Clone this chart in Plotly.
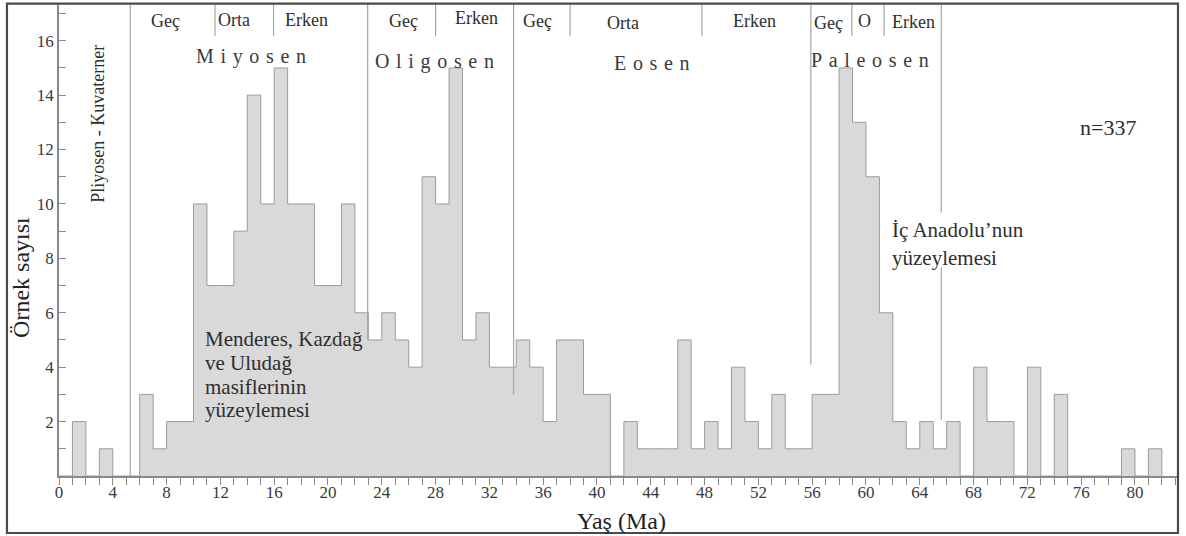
import numpy as np
import plotly.graph_objects as go

# ---------------- data ----------------
bin_width = 1  # Ma
counts = [0, 2, 0, 1, 0, 0, 3, 1, 2, 2,
          10, 7, 7, 9, 14, 10, 15, 10, 10, 7,
          7, 10, 6, 5, 6, 5, 4, 11, 10, 15,
          5, 6, 4, 4, 5, 4, 2, 5, 5, 3,
          3, 0, 2, 1, 1, 1, 5, 1, 2, 1,
          4, 2, 1, 3, 1, 1, 3, 3, 15, 13,
          11, 6, 2, 1, 2, 1, 2, 0, 4, 2,
          2, 0, 4, 0, 3, 0, 0, 0, 0, 1,
          0, 1]

# epoch boundaries (Ma) and the level where each drawn line stops
epoch_bounds = [5.3, 22.95, 33.8, 55.9, 65.6]
epoch_line_bottom = [0, 5, 3, 4.1, 2.07]
# sub-epoch boundaries (short ticks in the header band)
sub_bounds = [11.6, 15.95, 28.0, 38.0, 47.8, 58.95, 61.35]

sub_labels = ["Geç", "Orta", "Erken", "Geç", "Erken", "Geç", "Orta", "Erken", "Geç", "O", "Erken"]
sub_label_x = [7.9, 13.0, 18.4, 25.6, 31.05, 35.6, 41.9, 51.7, 57.25, 59.9, 63.5]
sub_label_y = [16.72, 16.78, 16.78, 16.72, 16.85, 16.72, 16.66, 16.72, 16.66, 16.72, 16.68]

SP = "\u2004"
epoch_names = [SP.join("Miyosen"), SP.join("Oligosen"), SP.join("Eosen"), SP.join("Paleosen")]
epoch_name_x = [14.3, 27.95, 44.1, 60.3]
epoch_name_y = [15.43, 15.25, 15.19, 15.31]

x_tick_vals = list(range(0, 81, 4))
y_tick_vals = list(range(2, 17, 2))

Y_TOP = 17.35
X_MAX = 83.2
FONT = "Liberation Serif"
TXT = "#2e2e2e"
GRID = "#a6a6a6"

edges = np.arange(0, len(counts) + 1) * bin_width
step_y = list(counts) + [0]

fig = go.Figure()
fig.add_trace(go.Scatter(
    x=edges, y=step_y, mode="lines", line_shape="hv",
    line=dict(color="#9c9c9c", width=1),
    fill="tozeroy", fillcolor="#d9d9d9",
    hoverinfo="skip", showlegend=False))

shapes = []
for xb, yb in zip(epoch_bounds, epoch_line_bottom):
    if xb > 65:
        # K/Pg line is interrupted by the annotation text
        shapes.append(dict(type="line", xref="x", yref="y", x0=xb, x1=xb, y0=9.69, y1=Y_TOP,
                           line=dict(color=GRID, width=1.2)))
        shapes.append(dict(type="line", xref="x", yref="y", x0=xb, x1=xb, y0=yb, y1=7.67,
                           line=dict(color=GRID, width=1.2)))
    else:
        shapes.append(dict(type="line", xref="x", yref="y", x0=xb, x1=xb, y0=yb, y1=Y_TOP,
                           line=dict(color=GRID, width=1.2)))
for xb in sub_bounds:
    shapes.append(dict(type="line", xref="x", yref="y", x0=xb, x1=xb, y0=16.16, y1=Y_TOP,
                       line=dict(color=GRID, width=1.2)))
# outer frame
shapes.append(dict(type="rect", xref="paper", yref="paper",
                   x0=-0.0465, x1=1.0, y0=-0.1208, y1=1.001,
                   line=dict(color="#4a4a4a", width=2.2)))

annotations = []
for t, x, y in zip(sub_labels, sub_label_x, sub_label_y):
    annotations.append(dict(text=t, x=x, y=y, xref="x", yref="y", showarrow=False,
                            font=dict(family=FONT, size=18, color=TXT)))
for t, x, y in zip(epoch_names, epoch_name_x, epoch_name_y):
    annotations.append(dict(text=t, x=x, y=y, xref="x", yref="y", showarrow=False,
                            font=dict(family=FONT, size=20, color="#3a3a3a")))

annotations.append(dict(text="Pliyosen - Kuvaterner", x=2.9, y=12.95, xref="x", yref="y",
                        textangle=-90, showarrow=False,
                        font=dict(family=FONT, size=18, color=TXT)))
annotations.append(dict(text="n=337", x=78.0, y=12.8, xref="x", yref="y", showarrow=False,
                        font=dict(family=FONT, size=22, color=TXT)))
annotations.append(dict(text="İç Anadolu’nun", x=61.8, y=9.04, xref="x", yref="y",
                        xanchor="left", showarrow=False,
                        font=dict(family=FONT, size=21, color=TXT)))
annotations.append(dict(text="yüzeylemesi", x=61.8, y=8.03, xref="x", yref="y",
                        xanchor="left", showarrow=False,
                        font=dict(family=FONT, size=21, color=TXT)))
for t, y in zip(["Menderes, Kazdağ", "ve Uludağ", "masiflerinin", "yüzeylemesi"],
                [5.02, 4.17, 3.29, 2.44]):
    annotations.append(dict(text=t, x=10.7, y=y, xref="x", yref="y", xanchor="left",
                            showarrow=False, font=dict(family=FONT, size=21, color=TXT)))

annotations.append(dict(text="Örnek sayısı", x=-0.0338, y=0.42, xref="paper", yref="paper",
                        xanchor="center", yanchor="middle",
                        textangle=-90, showarrow=False,
                        font=dict(family=FONT, size=24, color="#222222")))
annotations.append(dict(text="Yaş (Ma)", x=41.85, y=-0.0953, xref="x", yref="paper",
                        xanchor="center", yanchor="middle",
                        showarrow=False, font=dict(family=FONT, size=24, color="#222222")))

fig.update_layout(
    width=1186, height=536,
    margin=dict(l=59, r=8, t=4, b=60),
    paper_bgcolor="white", plot_bgcolor="white",
    shapes=shapes, annotations=annotations,
    xaxis=dict(range=[0, X_MAX], tickvals=x_tick_vals, ticks="outside", ticklen=7,
               tickwidth=1.3, tickcolor="#8a8a8a", showgrid=False, zeroline=False,
               showline=True, linecolor="#8a8a8a", linewidth=1.5,
               ticklabelstandoff=-7,
               tickfont=dict(family=FONT, size=17, color="#3a3a3a"),
               minor=dict(dtick=1, tick0=0, ticks="outside", ticklen=7, tickwidth=1.3,
                          tickcolor="#8a8a8a", showgrid=False)),
    yaxis=dict(range=[0, Y_TOP], tickvals=y_tick_vals, ticks="inside", ticklen=7,
               tickwidth=1.3, tickcolor="#8a8a8a", showgrid=False, zeroline=False,
               showline=True, linecolor="#8a8a8a", linewidth=1.5,
               tickfont=dict(family=FONT, size=17, color="#3a3a3a"),
               minor=dict(dtick=1, tick0=0, ticks="inside", ticklen=7, tickwidth=1.3,
                          tickcolor="#8a8a8a", showgrid=False)),
)

fig.write_html("out.html", config={"displayModeBar": False},
               post_script="document.body.style.margin='0';")
